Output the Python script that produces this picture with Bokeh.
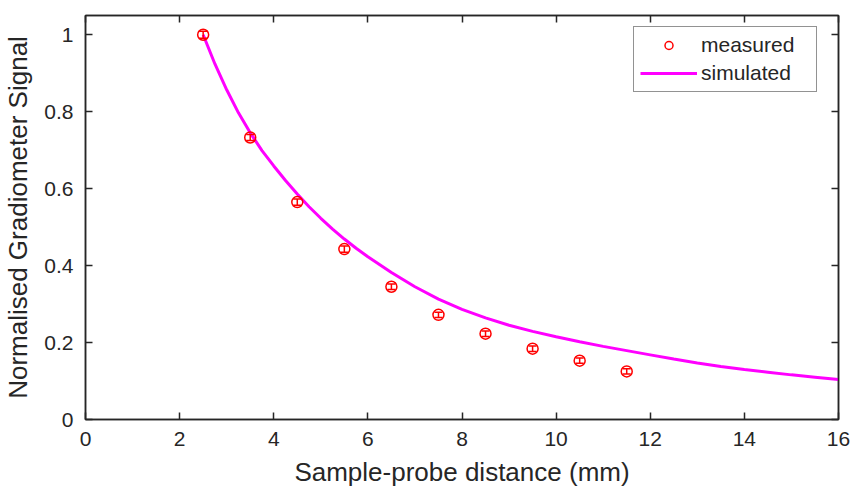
from bokeh.plotting import figure
from bokeh.models import (ColumnDataSource, Whisker, TeeHead, LinearAxis, FixedTicker,
                          Range1d, Legend, LegendItem, NumeralTickFormatter)
from bokeh.embed import file_html
from bokeh.resources import INLINE

# measured data (sample-probe distance in mm)
distance_mm = [2.5, 3.5, 4.5, 5.5, 6.5, 7.5, 8.5, 9.5, 10.5, 11.5]
measured = [1.0, 0.733, 0.565, 0.443, 0.345, 0.272, 0.223, 0.184, 0.153, 0.125]
measured_err = [0.009, 0.008, 0.008, 0.008, 0.007, 0.007, 0.007, 0.007, 0.007, 0.007]

# simulated curve
sim_distance = [2.5, 2.75, 3.0, 3.25, 3.5, 3.75, 4.0, 4.25, 4.5, 4.75, 5.0, 5.25, 5.5,
                5.75, 6.0, 6.5, 7.0, 7.5, 8.0, 8.5, 9.0, 9.5, 10.0, 10.5, 11.0, 11.5,
                12.0, 12.5, 13.0, 13.5, 14.0, 14.5, 15.0, 15.5, 16.0]
simulated = [1.0, 0.924, 0.857, 0.797, 0.745, 0.699, 0.659, 0.621, 0.586, 0.553, 0.523,
             0.495, 0.469, 0.445, 0.423, 0.382, 0.345, 0.313, 0.286, 0.264, 0.245, 0.229,
             0.215, 0.202, 0.19, 0.179, 0.168, 0.157, 0.147, 0.138, 0.13, 0.123, 0.116,
             0.11, 0.104]

x_ticks = [0, 2, 4, 6, 8, 10, 12, 14, 16]
y_ticks = [0, 0.2, 0.4, 0.6, 0.8, 1]

TXT = "#262626"
FONT = "Liberation Sans"

p = figure(width=850, height=489, output_backend="svg", toolbar_location=None,
           x_range=Range1d(0, 16), y_range=Range1d(0, 1.05),
           min_border_left=84, min_border_right=12, min_border_top=15, min_border_bottom=69)
p.grid.visible = False
p.outline_line_color = TXT
p.outline_line_width = 1.5
p.background_fill_color = "white"
p.border_fill_color = "white"

meas_src = ColumnDataSource(dict(
    x=distance_mm, y=measured,
    upper=[m + e for m, e in zip(measured, measured_err)],
    lower=[m - e for m, e in zip(measured, measured_err)]))
sim_src = ColumnDataSource(dict(x=sim_distance, y=simulated))

line_r = p.line("x", "y", source=sim_src, line_color="#FF00FF", line_width=3)
w = Whisker(source=meas_src, base="x", upper="upper", lower="lower",
            line_color="#FF0000", line_width=1.5, level="glyph",
            upper_head=TeeHead(size=8, line_color="#FF0000", line_width=1.5),
            lower_head=TeeHead(size=8, line_color="#FF0000", line_width=1.5))
p.add_layout(w)
circ_r = p.scatter("x", "y", source=meas_src, marker="circle", size=11,
                   fill_color=None, line_color="#FF0000", line_width=1.5)

def style_axis(ax, labels=True):
    ax.axis_line_color = TXT
    ax.axis_line_width = 1.5
    ax.major_tick_line_color = TXT
    ax.major_tick_line_width = 1.5
    ax.major_tick_in = 7
    ax.major_tick_out = 0
    ax.minor_tick_line_color = None
    ax.major_label_text_font = FONT
    ax.axis_label_text_font = FONT
    ax.axis_label_text_color = TXT
    ax.axis_label_text_font_style = "normal"
    ax.axis_label_text_font_size = "26px"
    if labels:
        ax.major_label_text_font_size = "21px"
        ax.major_label_text_color = TXT
    else:
        ax.major_label_text_font_size = "1px"
        ax.major_label_text_color = None
        ax.major_label_standoff = 0

xa = p.xaxis[0]
xa.ticker = FixedTicker(ticks=x_ticks)
xa.axis_label = "Sample-probe distance (mm)"
style_axis(xa)
xa.major_label_standoff = 12
xa.axis_label_standoff = 8

ya = p.yaxis[0]
ya.ticker = FixedTicker(ticks=y_ticks)
ya.formatter = NumeralTickFormatter(format="0.[0]")
ya.axis_label = "Normalised Gradiometer Signal"
style_axis(ya)
ya.major_label_standoff = 12
ya.axis_label_standoff = 8

top = LinearAxis(ticker=FixedTicker(ticks=x_ticks))
style_axis(top, labels=False)
p.add_layout(top, "above")
right = LinearAxis(ticker=FixedTicker(ticks=y_ticks))
style_axis(right, labels=False)
p.add_layout(right, "right")

legend = Legend(items=[LegendItem(label="measured", renderers=[circ_r]),
                       LegendItem(label="simulated", renderers=[line_r])],
                location=(548, 327), margin=0, padding=6, spacing=4,
                glyph_width=57, glyph_height=20, label_height=20, label_width=109,
                label_standoff=4, label_text_font=FONT, label_text_font_size="21px",
                label_text_color=TXT, border_line_color=TXT, border_line_width=1,
                background_fill_color="white", background_fill_alpha=1.0)
p.add_layout(legend)

open("out.html", "w").write(file_html(p, INLINE))
